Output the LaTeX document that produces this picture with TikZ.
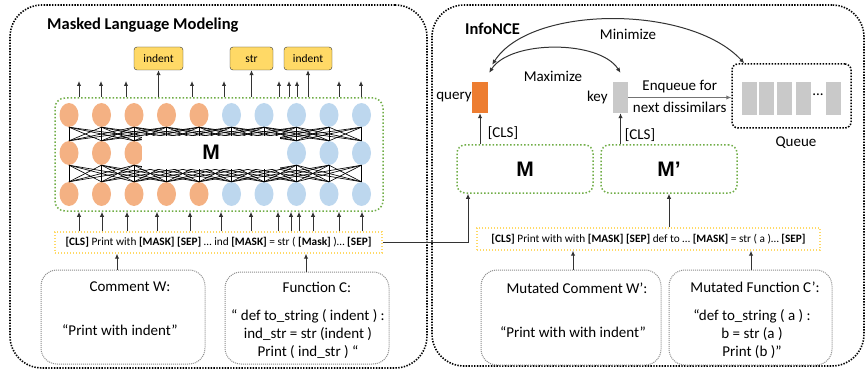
\documentclass[tikz,border=0pt]{standalone}
\usepackage{fontspec}
\setmainfont{Carlito}
\newfontfamily\mfont{Liberation Sans}
\usepackage{tikz}
\usepackage{xcolor}
\usetikzlibrary{arrows.meta, shapes.geometric, calc, positioning}

\definecolor{tokor}{HTML}{F4B183}
\definecolor{tokbl}{HTML}{BDD7EE}
\definecolor{queryor}{HTML}{ED7D31}
\definecolor{keygr}{HTML}{C9C9C9}
\definecolor{predyl}{HTML}{FFD966}
\definecolor{encgr}{HTML}{70AD47}
\definecolor{bargold}{HTML}{FFD966}

\tikzset{
  panel/.style={draw, line width=1.6pt, dash pattern=on 1.4pt off 1.4pt, rounded corners=32pt, inner sep=0pt},
  encbox/.style={draw=encgr, line width=1.5pt, dash pattern=on 1.5pt off 2pt, rounded corners=10pt, inner sep=0pt},
  seqbar/.style={draw=bargold, line width=1.4pt, dash pattern=on 1.4pt off 1.6pt, inner sep=0pt, font=\fontsize{11.3}{13}\selectfont},
  srcbox/.style={draw=black!45, line width=1pt, dash pattern=on 1pt off 1pt, rounded corners=16pt, inner sep=0pt},
  tok/.style={ellipse, minimum width=19pt, minimum height=24pt, inner sep=0pt},
  pred/.style={draw=black!80, fill=predyl, rounded corners=3pt, minimum height=23pt, inner sep=0pt, font=\fontsize{11.5}{13}\selectfont},
  lbl/.style={font=\fontsize{15}{18}\selectfont, inner sep=0pt, text=black},
  ttl/.style={font=\fontsize{16.5}{19}\selectfont\bfseries, anchor=west, inner sep=0pt},
  bigm/.style={font=\mfont\bfseries\fontsize{21}{24}\selectfont},
  arr/.style={-{Latex[length=5pt,width=4.5pt]}, line width=1pt, black!80},
}

\begin{document}
\begin{tikzpicture}[x=1pt, y=-1pt]
\useasboundingbox (0,0) rectangle (865,377);

% panels
\node[panel, minimum width=417pt, minimum height=363pt] (mlm) at (218.5,186.5) {};
\node[panel, minimum width=432pt, minimum height=361pt] (nce) at (648,185.5) {};
\node[ttl] (mlmt) at (47,25) {Masked Language Modeling};
\node[ttl] (ncet) at (465,29) {InfoNCE};

% encoder M with token layers
\node[encbox, minimum width=328pt, minimum height=113pt] (enc) at (219,154.5) {};
\foreach \i in {1,...,10} {
  \pgfmathsetmacro\cx{69+32.5*(\i-1)}
  \ifnum\i<6 \def\tc{tokor}\else\def\tc{tokbl}\fi
  \foreach \r/\cy in {1/115,2/153,3/194}
    \node[tok, fill=\tc] (t-\r-\i) at (\cx,\cy) {};
}
\foreach \i in {1,...,10}
  \foreach \j in {1,...,10} {
    \pgfmathtruncatemacro\d{abs(\i-\j)}
    \ifnum\d<4
      \draw[line width=0.65pt] (t-1-\i.south) -- (t-2-\j.north) (t-2-\i.south) -- (t-3-\j.north);
    \fi
  }
\node[fill=white, minimum width=138pt, minimum height=33pt, inner sep=0pt, bigm] (mhide) at (211,152.5) {M};

% predictions
\node[pred, minimum width=49pt] (ind1) at (158.5,58.5) {indent};
\node[pred, minimum width=43pt] (strp) at (251.5,58.5) {str};
\node[pred, minimum width=48pt] (ind2) at (308,58.5) {indent};
\coordinate (outy) at (0,81);
\foreach \x in {79,101,126,192,224,279,289,297,339,361}
  \draw[arr] (enc.north -| \x,0) -- (outy -| \x,0);
\draw[arr] (enc.north -| ind1.south) -- (ind1.south);
\draw[arr] (enc.north -| strp.south) -- (strp.south);
\draw[arr] (enc.north -| ind2.south) -- (ind2.south);

% masked input
\node[seqbar, minimum width=327pt, minimum height=21pt] (barL) at (218.5,242.5) {\textbf{[CLS]} Print with \textbf{[MASK]} \textbf{[SEP]} … ind \textbf{[MASK]} = str ( \textbf{[Mask]} )… \textbf{[SEP]}};
\foreach \x in {79,102,127,157,190,221,251,278,291,299,313,339,362}
  \draw[arr] (barL.north -| \x,0) -- (enc.south -| \x,0);

% comment and function
\node[srcbox, minimum width=164pt, minimum height=94pt] (cw) at (123,317) {};
\node[lbl] (cwt) at (130,287) {Comment W:};
\node[lbl] (cwx) at (120,330) {“Print with indent”};
\node[srcbox, minimum width=164pt, minimum height=92pt] (fc) at (307,318) {};
\node[lbl] (fct) at (317,287) {Function C:};
\node[lbl, align=center] (fcx) at (308,334) {“ def to\_string ( indent ) :\\ ind\_str = str (indent )\\ Print ( ind\_str ) “};
\draw[arr] (cw.north -| 117,0) -- (barL.south -| 117,0);
\draw[arr] (fc.north -| 306,0) -- (barL.south -| 306,0);

% InfoNCE
\node[encbox, rounded corners=8pt, minimum width=136pt, minimum height=48pt, bigm] (encq) at (525,169) {M};
\node[encbox, rounded corners=8pt, minimum width=136pt, minimum height=48pt, bigm] (enck) at (669,169) {M’};
\node[fill=queryor, minimum width=16pt, minimum height=31pt, inner sep=0pt] (query) at (480,97.5) {};
\node[fill=keygr, minimum width=15pt, minimum height=31pt, inner sep=0pt] (key) at (620.5,97.5) {};
\node[lbl, left=0pt of query] (queryt) {query};
\node[lbl, left=5pt of key] (keyt) {key};
\node[draw, line width=1.5pt, dash pattern=on 1.5pt off 1.5pt, rounded corners=6pt, minimum width=119pt, minimum height=64pt, inner sep=0pt] (queue) at (791.5,96) {};
\foreach \x [count=\k] in {749,766.5,784.5,803.5,833.5}
  \node[fill=keygr, minimum width=15pt, minimum height=33pt, inner sep=0pt] (q-\k) at (\x,98.5) {};
\node[lbl] (qdots) at (818,95) {...};
\node[lbl] (queuet) at (796,143) {Queue};
\node[lbl] (cls1) at (503,133) {[CLS]};
\node[lbl] (cls2) at (640,135) {[CLS]};
\node[lbl] (maxt) at (553,76) {Maximize};
\node[lbl] (mint) at (628,34) {Minimize};

\draw[arr] (encq.north -| query.south) -- (query.south);
\draw[arr] (enck.north -| key.south) -- (key.south);
\draw[arr, black!55] (key.east) -- node[lbl, above=4pt] {Enqueue for} node[lbl, below=4pt] {next dissimilars} (key.east -| queue.west);
\draw[arr, {Latex[length=5pt,width=4.5pt]}-{Latex[length=5pt,width=4.5pt]}] ([shift={(1,-9)}]query.north east) .. controls +(21,-33) and +(-21,-33) .. ([shift={(0,-9)}]key.north);
\draw[arr, {Latex[length=5pt,width=4.5pt]}-{Latex[length=5pt,width=4.5pt]}] ([shift={(4,-17)}]query.north east) .. controls +(38,-60) and +(-55,-59) .. ([xshift=13pt]queue.north west);

% mutated input
\node[seqbar, minimum width=343pt, minimum height=22pt] (barR) at (648.5,239) {\textbf{[CLS]} Print with with \textbf{[MASK]} \textbf{[SEP]} def to … \textbf{[MASK]} = str ( a )… \textbf{[SEP]}};
\draw[arr] (barL.east) -| ([xshift=-57pt]encq.south);
\draw[arr] (barR.north -| enck.south) -- (enck.south);

\node[srcbox, minimum width=180pt, minimum height=95pt] (mcw) at (571,317.5) {};
\node[lbl] (mcwt) at (577,288) {Mutated Comment W’:};
\node[lbl] (mcwx) at (573,332) {“Print with with indent”};
\node[srcbox, minimum width=163pt, minimum height=95pt] (mfc) at (750.5,317.5) {};
\node[lbl] (mfct) at (755,287) {Mutated Function C’:};
\node[lbl, align=center] (mfcx) at (752,334) {“def to\_string ( a ) :\\ b = str (a )\\ Print (b )”};
\draw[arr] (mcw.north -| 573,0) -- (barR.south -| 573,0);
\draw[arr] (mfc.north -| 751,0) -- (barR.south -| 751,0);
\end{tikzpicture}
\end{document}
